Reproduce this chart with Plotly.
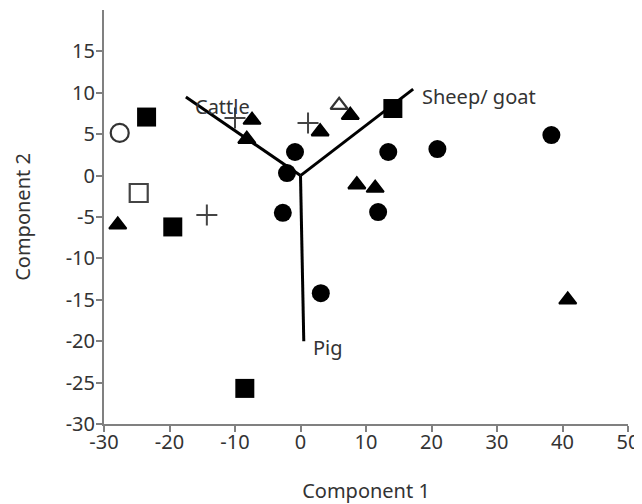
import plotly.graph_objects as go

# Filled circles
circ_x = [-0.84, -2.06, -2.7, 13.4, 20.9, 38.3, 11.85, 3.1]
circ_y = [2.85, 0.3, -4.5, 2.85, 3.2, 4.9, -4.4, -14.2]
# Filled triangles
tri_x = [-27.9, -7.4, -8.2, 3.0, 7.6, 8.6, 11.4, 40.8]
tri_y = [-5.95, 6.7, 4.4, 5.3, 7.3, -1.1, -1.5, -15.0]
# Filled squares
sq_x = [-23.5, -19.5, -8.5, 14.1]
sq_y = [7.07, -6.2, -25.7, 8.1]
# Open markers
osq_x = [-24.7]
osq_y = [-2.1]
ocirc_x = [-27.6]
ocirc_y = [5.15]
otri_x = [5.9]
otri_y = [8.5]
# Plus markers
plus_x = [-14.3, -10.0, 1.15]
plus_y = [-4.75, 6.95, 6.35]

# Loading vectors (biplot)
load_names = ["Cattle", "Sheep/ goat", "Pig"]
load_x = [-17.5, 17.2, 0.5]
load_y = [9.5, 10.45, -20.0]
label_x = [-16.4, 18.3, 1.6]
label_y = [8.4, 9.5, -20.8]

x_ticks = [-30, -20, -10, 0, 10, 20, 30, 40, 50]
x_ticktext = ["-30", "-20", "-10", "0", "10", "20", "30", "40", "50"]
y_ticks = [-30, -25, -20, -15, -10, -5, 0, 5, 10, 15]
y_ticktext = ["-30", "-25", "-20", "-15", "-10", "-5", "0", "5", "10", "15"]
x_title = "Component 1"
y_title = "Component 2"

FONT = "Noto Sans"
FS = 20
TXT = "#333333"
AX = "#808080"

fig = go.Figure()

fig.add_trace(go.Scatter(x=circ_x, y=circ_y, mode="markers",
                         marker=dict(symbol="circle", size=18, color="black", line=dict(width=0))))
fig.add_trace(go.Scatter(x=tri_x, y=tri_y, mode="markers",
                         marker=dict(symbol="triangle-up", size=15, color="black",
                                     line=dict(width=2, color="black"))))
fig.add_trace(go.Scatter(x=sq_x, y=sq_y, mode="markers",
                         marker=dict(symbol="square", size=19, color="black", line=dict(width=0))))
fig.add_trace(go.Scatter(x=osq_x, y=osq_y, mode="markers",
                         marker=dict(symbol="square-open", size=18, color="#444444",
                                     line=dict(width=2.2, color="#444444"))))
fig.add_trace(go.Scatter(x=ocirc_x, y=ocirc_y, mode="markers",
                         marker=dict(symbol="circle-open", size=18, color="#333333",
                                     line=dict(width=2.2, color="#333333"))))
fig.add_trace(go.Scatter(x=otri_x, y=otri_y, mode="markers",
                         marker=dict(symbol="triangle-up-open", size=15, color="#333333",
                                     line=dict(width=2.2, color="#333333"))))
fig.add_trace(go.Scatter(x=plus_x, y=plus_y, mode="markers",
                         marker=dict(symbol="cross-thin", size=15, color="#444444",
                                     line=dict(width=2, color="#444444"))))

# biplot lines from origin
lx, ly = [], []
for vx, vy in zip(load_x, load_y):
    lx += [0, vx, None]
    ly += [0, vy, None]
fig.add_trace(go.Scatter(x=lx, y=ly, mode="lines",
                         line=dict(color="black", width=3)))

for name, tx, ty in zip(load_names, label_x, label_y):
    fig.add_annotation(x=tx, y=ty, text=name, showarrow=False,
                       xanchor="left", yanchor="middle",
                       font=dict(family=FONT, size=FS, color=TXT))

# page body has an 8px margin: figure is sized/offset to compensate
fig.update_layout(
    width=634, height=496,
    margin=dict(l=96, r=14, t=2, b=80),
    paper_bgcolor="white", plot_bgcolor="white",
    showlegend=False,
    font=dict(family=FONT, size=FS, color=TXT),
)
fig.update_xaxes(range=[-30, 50], tickvals=x_ticks, ticktext=x_ticktext,
                 showgrid=False, zeroline=False, automargin=False,
                 showline=True, linecolor=AX, linewidth=2,
                 ticks="outside", ticklen=6, tickwidth=2, tickcolor=AX,
                 ticklabelstandoff=-7, ticklabeloverflow="allow",
                 title=dict(text=x_title, standoff=30,
                            font=dict(family=FONT, size=FS, color=TXT)),
                 tickfont=dict(family=FONT, size=FS, color=TXT))
fig.update_yaxes(range=[-30, 20], tickvals=y_ticks, ticktext=y_ticktext,
                 showgrid=False, zeroline=False, automargin=False,
                 showline=True, linecolor=AX, linewidth=2,
                 ticks="outside", ticklen=6, tickwidth=2, tickcolor=AX,
                 ticklabelstandoff=-3, ticklabeloverflow="allow",
                 title=dict(text=y_title, standoff=30,
                            font=dict(family=FONT, size=FS, color=TXT)),
                 tickfont=dict(family=FONT, size=FS, color=TXT))

fig.write_html("out.html")
